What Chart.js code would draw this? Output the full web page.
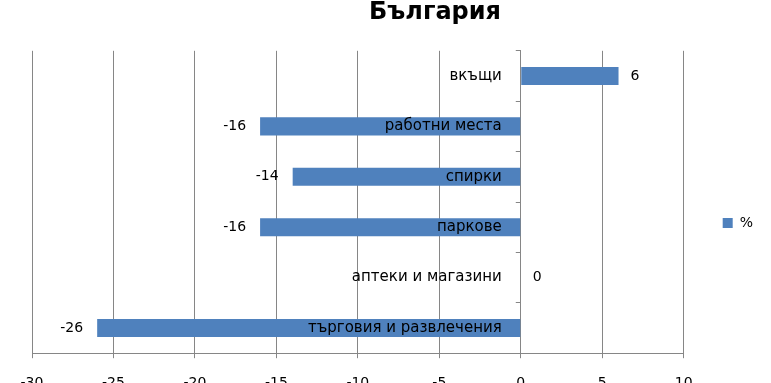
<!DOCTYPE html>
<html><head><meta charset="utf-8">
<script src="https://cdn.jsdelivr.net/npm/chart.js@4/dist/chart.umd.min.js"></script>
<style>
html,body{margin:0;padding:0;background:#fff;overflow:hidden;}
#wrap{position:relative;width:771px;height:383px;overflow:hidden;background:#fff;}
#box{position:absolute;left:0;top:-4px;width:771px;height:420px;}
</style></head><body>
<div id="wrap"><div id="box"><canvas id="c" width="771" height="420"></canvas></div></div>
<script>
const chartTitle = 'България';
const categories = ['вкъщи', 'работни места', 'спирки', 'паркове', 'аптеки и магазини', 'търговия и развлечения'];
const values = [6, -16, -14, -16, 0, -26];
const seriesName = '%';
const xMin = -30, xMax = 10, xStep = 5;

const FONT = '"DejaVu Sans", sans-serif';
const GRID = '#868686';
const BLUE = '#4F81BD';

const dataLabels = {
  id: 'dataLabels',
  afterDatasetsDraw(chart) {
    const ctx = chart.ctx;
    const meta = chart.getDatasetMeta(0);
    ctx.save();
    ctx.font = '14px ' + FONT;
    ctx.fillStyle = '#000';
    ctx.textBaseline = 'middle';
    meta.data.forEach((bar, i) => {
      const v = values[i];
      if (v >= 0) { ctx.textAlign = 'left'; ctx.fillText(String(v), bar.x + 12, bar.y); }
      else { ctx.textAlign = 'right'; ctx.fillText(String(v), bar.x - 14, bar.y); }
    });
    ctx.restore();
  }
};

// place the category axis on the zero line, nudge title and legend
const placement = {
  id: 'placement',
  afterLayout(chart) {
    const y = chart.scales.y;
    const zero = chart.scales.x.getPixelForValue(0);
    y.left = chart.chartArea.left; y.right = zero;
    const t = chart.titleBlock;
    if (t) { const d = 435 - (t.left + t.right) / 2; t.left += d; t.right += d; }
    const l = chart.legend;
    if (l) { const d = 227 - (l.top + l.bottom) / 2; l.top += d; l.bottom += d; }
  }
};

new Chart(document.getElementById('c'), {
  type: 'bar',
  data: {
    labels: categories,
    datasets: [{
      label: seriesName,
      data: values,
      backgroundColor: BLUE,
      borderWidth: 0,
      barPercentage: 0.36,
      categoryPercentage: 1
    }]
  },
  options: {
    indexAxis: 'y',
    responsive: false,
    animation: false,
    devicePixelRatio: 1,
    layout: { padding: { left: 32, right: 8, top: 0, bottom: 7 } },
    plugins: {
      title: {
        display: true, text: chartTitle, color: '#000',
        font: { family: FONT, size: 24, weight: 'bold' },
        padding: { top: 2, bottom: 24 }
      },
      legend: {
        position: 'right',
        labels: {
          boxWidth: 10, boxHeight: 10, padding: 39, color: '#000',
          font: { family: FONT, size: 14 }
        }
      },
      tooltip: { enabled: false }
    },
    scales: {
      x: {
        type: 'linear', min: xMin, max: xMax,
        ticks: { stepSize: xStep, color: '#000', font: { family: FONT, size: 14 }, padding: 17 },
        grid: { color: GRID, tickLength: 5 },
        border: { color: GRID }
      },
      y: {
        type: 'category',
        position: 'left',
        afterFit(scale) { scale.width = 0; },
        ticks: { color: '#000', font: { family: FONT, size: 15 }, padding: 14, z: 1 },
        grid: { drawOnChartArea: false, offset: true, tickLength: 5, color: GRID },
        border: { color: GRID }
      }
    }
  },
  plugins: [dataLabels, placement]
});
</script>
</body></html>
